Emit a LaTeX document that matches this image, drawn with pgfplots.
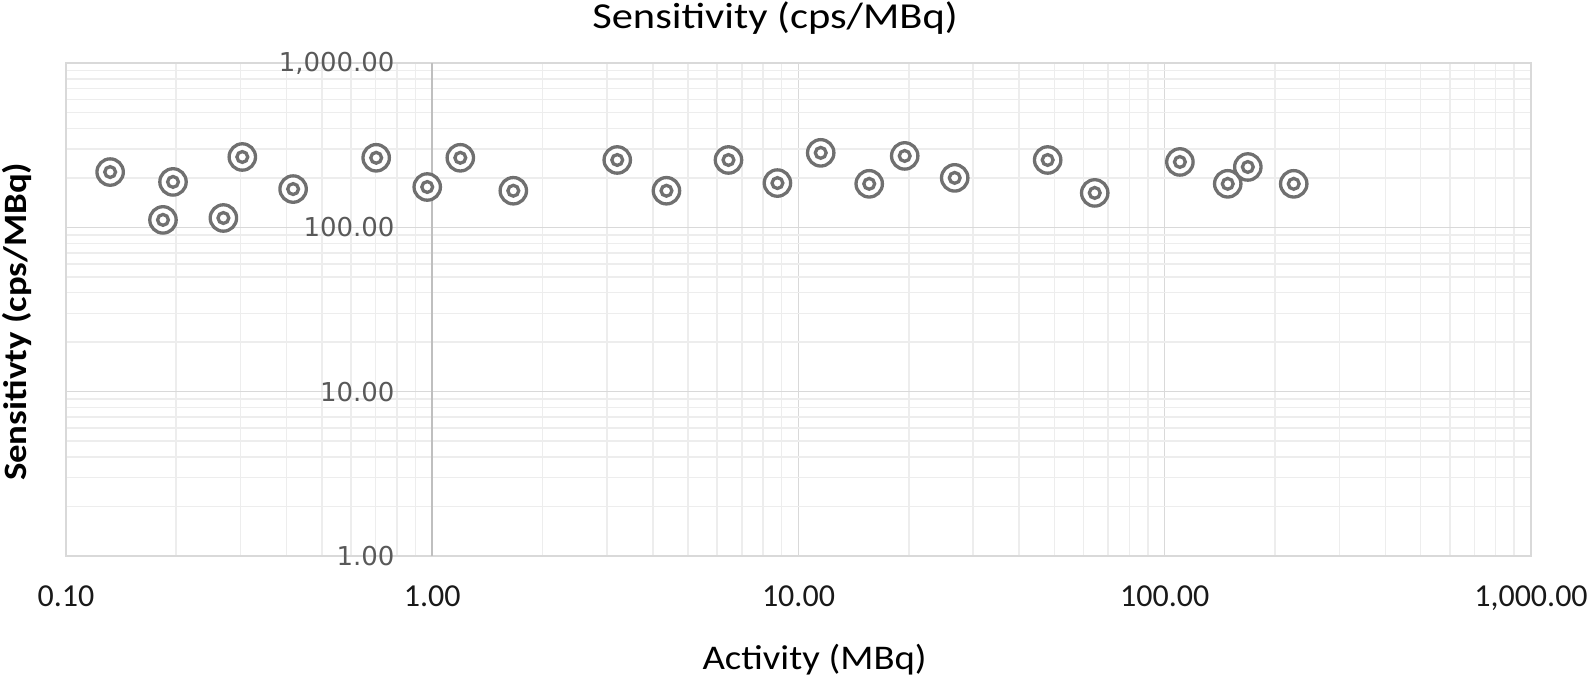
\documentclass[border=0pt]{standalone}
\usepackage{pgfplots}
\pgfplotsset{compat=1.18}
\usepackage{fontspec}
\setmainfont{Carlito}
\newfontfamily\dejavu{DejaVu Sans}
\newfontfamily\titlefont[FakeStretch=1.16]{Carlito}
\newfontfamily\xlabfont[FakeStretch=1.12]{Carlito}
\newfontfamily\ylabfont[FakeStretch=1.13]{Carlito}
\definecolor{mk}{HTML}{707070}
\definecolor{majg}{HTML}{D9D9D9}
\definecolor{ming}{HTML}{EDEDED}
\definecolor{ytl}{HTML}{595959}
\pgfdeclareplotmark{dcirc}{%
  \pgfpathcircle{\pgfpointorigin}{\pgfplotmarksize}\pgfusepathqfillstroke
  \pgfpathcircle{\pgfpointorigin}{0.41\pgfplotmarksize}\pgfusepathqstroke}
\begin{document}
\begin{tikzpicture}
\begin{axis}[
  at={(0,0)}, anchor=south west,
  scale only axis, width=732.5pt, height=246.5pt,
  xmode=log, ymode=log,
  xmin=0.1, xmax=1000, ymin=1, ymax=1000,
  xtick={0.1,1,10,100,1000},
  xticklabels={0.10,1.00,10.00,100.00,{1,000.00}},
  ytick={1,10,100,1000},
  yticklabels={1.00,10.00,100.00,{1,000.00}},
  grid=both,
  major grid style={majg, line width=0.75pt},
  minor grid style={ming, line width=0.75pt},
  axis line style={majg, line width=0.75pt},
  tick style={draw=none},
  major tick length=0pt, minor tick length=0pt,
  extra x ticks={1}, extra x tick labels={},
  extra x tick style={major grid style={black!25, line width=0.9pt}},
  xticklabel style={font=\fontsize{16}{19}\selectfont, text=black!90, yshift=-11.5pt},
  yticklabel style={font=\dejavu\fontsize{13}{15}\selectfont, text=ytl, anchor=east, xshift=167.8pt},
  title={Sensitivity (cps/MBq)},
  title style={font=\titlefont\fontsize{18.3}{21}\selectfont, at={(axis description cs:0.484,1)}, anchor=base, yshift=11.5pt},
  xlabel={Activity (MBq)},
  xlabel style={font=\xlabfont\fontsize{17.3}{20}\selectfont, at={(axis description cs:0.511,0)}, anchor=base, yshift=-56.5pt},
  ylabel={Sensitivty (cps/MBq)},
  ylabel style={font=\ylabfont\bfseries\fontsize{16.3}{19}\selectfont, at={(axis description cs:0,0.475)}, anchor=center, yshift=24.5pt},
  clip=false,
]
\addplot[only marks, mark=dcirc, mark size=6.6pt,
  mark options={draw=mk, fill=white, line width=1.65pt}]
  table {
x y
0.132 217
0.196 189
0.184 111
0.303 268
0.269 114
0.417 171
0.703 265
0.969 176
1.193 265
1.665 167
3.20 257
4.36 167
6.44 257
8.76 186
11.5 284
15.6 184
19.5 272
26.7 200
47.9 257
64.4 162
110 250
148.6 184
168.6 233
225 184
};
\end{axis}
\pgfresetboundingbox
\path[use as bounding box] (-33pt,-60pt) rectangle (763pt,278pt);
\end{tikzpicture}
\end{document}
